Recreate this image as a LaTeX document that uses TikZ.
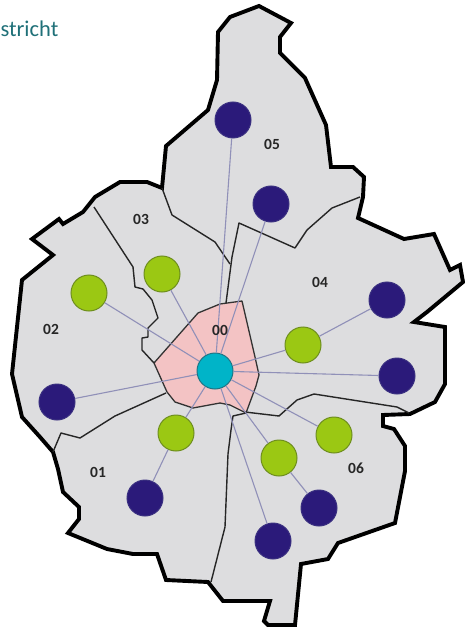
\documentclass[tikz,border=0pt]{standalone}
\usepackage{fontspec}
\setmainfont{Carlito}
\definecolor{land}{HTML}{DDDDDF}
\definecolor{rose}{HTML}{F3C3C4}
\definecolor{navy}{HTML}{2B1A7A}
\definecolor{navyb}{HTML}{3A3080}
\definecolor{lime}{HTML}{9BC813}
\definecolor{limeb}{HTML}{6E8E1E}
\definecolor{cyanc}{HTML}{00B4C8}
\definecolor{cyanb}{HTML}{1F7585}
\definecolor{spoke}{HTML}{9090B8}
\definecolor{titlec}{HTML}{1F7078}
\tikzset{
  outer/.style={draw=black,line width=3.9pt,fill=land,line join=miter,miter limit=3},
  inner/.style={draw=black!85,line width=1.4pt,line join=round},
  centre/.style={draw=black!80,line width=1.3pt,fill=rose,line join=round},
  link/.style={draw=spoke,line width=1.1pt},
  dot/.style={circle,minimum size=36pt,inner sep=0pt,line width=1pt},
  far/.style={dot,fill=navy,draw=navyb},
  near/.style={dot,fill=lime,draw=limeb},
  hub/.style={dot,fill=cyanc,draw=cyanb},
  zone/.style={font=\bfseries\fontsize{15.5}{17}\selectfont,text=black!85,inner sep=0pt}
}
\begin{document}
\begin{tikzpicture}[x=1pt,y=-1pt]
\useasboundingbox (0,0) rectangle (464,628);
% city outline
\path[outer] (259,6)--(291,23)--(280,37)--(280,53)--(305,78)--(326,125)--(331,167)--(353,167)--(364,177)--(363,197)--(358,218)--(404,239)--(434,234)--(450,270)--(460,265)--(463,282)--(427,312)--(414,322)--(445,327)--(445,384)--(435,402)--(410,414)--(383,415)--(383,426)--(394,429)--(405,446)--(405,471)--(395,523)--(338,543)--(328,559)--(301,564)--(295,625)--(268,625)--(264,621)--(270,601)--(223,601)--(208,582)--(166,580)--(157,554)--(133,554)--(107,549)--(68,533)--(79,519)--(79,507)--(63,492)--(58,469)--(53,452)--(40,437)--(22,417)--(12,374)--(22,280)--(53,255)--(32,239)--(59,219)--(63,224)--(83,212)--(95,197)--(120,182)--(147,182)--(162,188)--(166,146)--(208,110)--(217,80)--(218,32)--(230,17)--cycle;
% central district
\path[centre] (154,363)--(198,313)--(220,304)--(242,301)--(255,357)--(259,375)--(256,386)--(246,413)--(230,405)--(220,403)--(193,408)--(175,402)--(167,392)--cycle;
% district borders
\coordinate (a1) at (94,207);
\draw[inner] (a1)--(133,267)--(135,287)--(143,289)--(152,300)--(158,318)--(148,328)--(148,337)--(142,338)--(142,350)--(154,363);
\draw[inner] (162,188)--(172,215)--(215,242)--(230,264);
\draw[inner] (360,197)--(332,208)--(307,230)--(295,248)--(239,223)--(232,257)--(226,303);
\draw[inner] (166,393)--(115,416)--(80,438)--(61,433)--(53,452);
\draw[inner] (246,413)--(233,416)--(231,430)--(228,454)--(225,527)--(211,582);
\draw[inner] (245,412)--(279,416)--(297,400)--(314,394)--(397,407)--(409,413);
% stops
\node[hub] (h) at (215,371) {};
\node[far] (n1) at (233,120) {};
\node[far] (n2) at (271,204) {};
\node[far] (n3) at (387,300) {};
\node[far] (n4) at (397,376) {};
\node[far] (n5) at (319,508) {};
\node[far] (n6) at (273,541) {};
\node[far] (n7) at (145,498) {};
\node[far] (n8) at (57,402) {};
\node[near] (g1) at (89,293) {};
\node[near] (g2) at (162,274) {};
\node[near] (g3) at (303,345) {};
\node[near] (g4) at (334,435) {};
\node[near] (g5) at (279,458) {};
\node[near] (g6) at (176,433) {};
% links
\foreach \t in {n1,n2,n4,n6,n8,g1,g2,g3,g4,g5,g6} \draw[link] (h)--(\t);
\draw[link] (g3)--(n3);
\draw[link] (g5)--(n5);
\draw[link] (g6)--(n7);
% labels
\node[zone] (l5) at (272,144) {05};
\node[zone] (l3) at (141,219) {03};
\node[zone] (l4) at (320,282) {04};
\node[zone] (l2) at (51,329) {02};
\node[zone] (l0) at (220,330) {00};
\node[zone] (l1) at (98,472) {01};
\node[zone] (l6) at (356,468) {06};
\node[anchor=base east,inner sep=0pt,text=titlec,font=\fontsize{22.5}{25}\selectfont] (title) at (58.5,37) {stricht};
\end{tikzpicture}
\end{document}
